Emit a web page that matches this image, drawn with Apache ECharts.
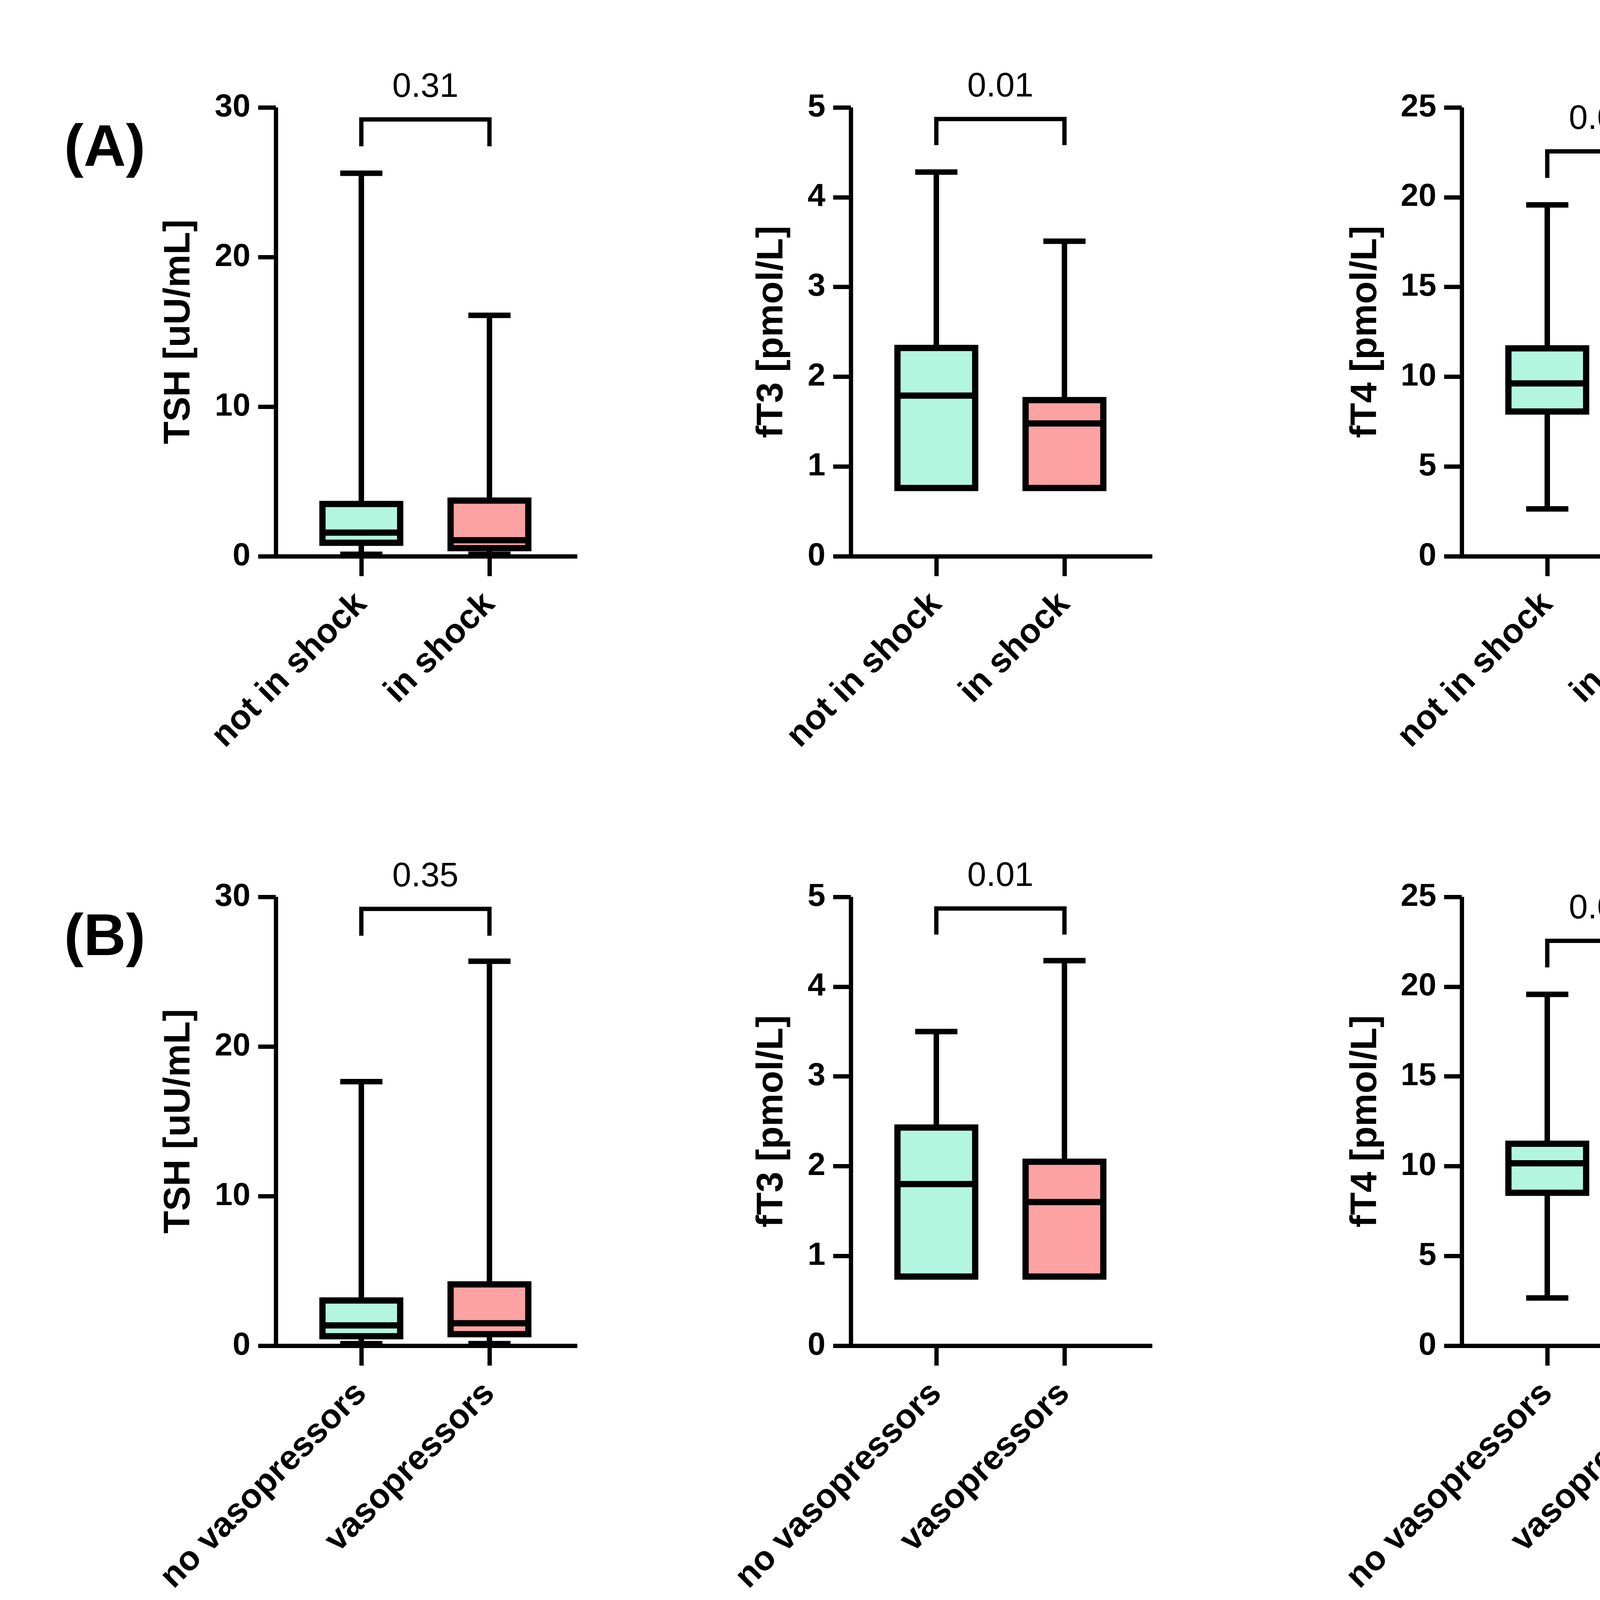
<!DOCTYPE html>
<html><head><meta charset="utf-8">
<script src="https://cdn.jsdelivr.net/npm/echarts@6/dist/echarts.min.js"></script>
<style>html,body{margin:0;padding:0;background:#fff}#c{width:4700px;height:6319px}</style>
</head><body><div id="c"></div>
<script>
// ---------- data ----------
const panelLetters = ['(A)', '(B)', '(C)'];
const categoriesA = ['not in shock', 'in shock'];
const categoriesB = ['no vasopressors', 'vasopressors'];
const categoriesC = ['mechanical ventilation', 'mechanical ventilation'];
const yAxisNames = ['TSH [uU/mL]', 'fT3 [pmol/L]', 'fT4 [pmol/L]'];
const yAxisMax = [30, 5, 25];
const yAxisInterval = [10, 1, 5];
// box statistics: [min, Q1, median, Q3, max]
const tshA = [[0.13, 0.9, 1.58, 3.49, 25.6], [0.13, 0.54, 1.07, 3.72, 16.1]];
const ft3A = [[0.76, 0.76, 1.79, 2.32, 4.28], [0.76, 0.76, 1.48, 1.74, 3.51]];
const ft4A = [[2.64, 8.06, 9.63, 11.58, 19.57], [0.14, 6.56, 7.89, 10.18, 17.96]];
const tshB = [[0.14, 0.63, 1.36, 3.02, 17.65], [0.14, 0.77, 1.5, 4.1, 25.7]];
const ft3B = [[0.77, 0.77, 1.8, 2.43, 3.5], [0.77, 0.77, 1.6, 2.05, 4.29]];
const ft4B = [[2.66, 8.52, 10.16, 11.25, 19.57], [0.16, 6.84, 8.46, 11.19, 17.95]];
const tshC = [[0.11, 1.0, 2.01, 4.18, 24.07], [0.11, 0.67, 1.3, 3.02, 25.8]];
const ft3C = [[0.77, 0.77, 1.94, 2.51, 3.5], [0.77, 0.77, 1.58, 1.95, 4.28]];
const ft4C = [[2.67, 8.41, 10.77, 11.96, 19.56], [0.18, 7.2, 8.45, 10.81, 17.95]];
const pValuesA = ['0.31', '0.01', '0.002'];
const pValuesB = ['0.35', '0.01', '0.003'];
const pValuesC = ['0.02', '0.003', '0.02'];
// significance bracket: [bar level, leg end] per column (TSH, fT3, fT4)
const bracketLevels = [[29.2, 27.4], [4.87, 4.58], [22.55, 21.07]];

// ---------- layout / style ----------
const FONT = 'Liberation Sans';
const BOX_COLORS = ['#B3F6DF', '#FCA2A2'];
const rowTop = [275, 2296, 4229];
const plotH = 1149;
const axisXRows = [[706, 2178, 3742], [706, 2178, 3742], [615, 2085, 3651]];
const frameW = 772, catOff = 219, catStep = 328;
const nameGaps = [200, 154, 198];
const letterTop = [303, 2324, 4255];

const rowsCats = [categoriesA, categoriesB, categoriesC];
const rowsStats = [[tshA, ft3A, ft4A], [tshB, ft3B, ft4B], [tshC, ft3C, ft4C]];
const rowsP = [pValuesA, pValuesB, pValuesC];

const LINE = { color: '#000', width: 11, cap: 'butt' };
const grids = [], xAxes = [], yAxes = [], series = [], titles = [];

for (let r = 0; r < 3; r++) {
  titles.push({
    text: panelLetters[r], left: 159, top: letterTop[r],
    textStyle: { fontFamily: FONT, fontSize: 150, fontWeight: 'bold', color: '#000', lineHeight: 150 }
  });
  for (let c = 0; c < 3; c++) {
    const top = rowTop[r], ax = axisXRows[r][c];
    const stats = rowsStats[r][c];
    const cats = rowsCats[r];
    const gF = grids.length;
    grids.push({ left: ax, top: top, width: frameW, height: plotH, containLabel: false, outerBoundsMode: 'none' });
    const gM = grids.length;
    grids.push({ left: ax + catOff - catStep / 2, top: top, width: catStep * 2, height: plotH, containLabel: false, outerBoundsMode: 'none' });

    const xF = xAxes.length;
    xAxes.push({
      type: 'value', gridIndex: gF, min: -catOff / catStep, max: (frameW - catOff) / catStep,
      axisLine: { show: true, onZero: false, lineStyle: LINE },
      axisTick: { show: false }, axisLabel: { show: false }, splitLine: { show: false }
    });
    const yF = yAxes.length;
    yAxes.push({
      type: 'value', gridIndex: gF, min: 0, max: yAxisMax[c], interval: yAxisInterval[c],
      name: yAxisNames[c], nameLocation: 'middle', nameGap: nameGaps[c], nameMoveOverlap: false,
      nameTextStyle: { fontFamily: FONT, fontSize: 95, fontWeight: 'bold', color: '#000', lineHeight: 95 },
      axisLine: { show: true, onZero: false, lineStyle: LINE },
      axisTick: { show: true, length: 45, lineStyle: LINE },
      axisLabel: { margin: 65, fontFamily: FONT, fontSize: 82, fontWeight: 'bold', color: '#000' },
      splitLine: { show: false }
    });
    const xM = xAxes.length;
    xAxes.push({
      type: 'category', gridIndex: gM, data: cats, boundaryGap: true,
      axisLine: { show: false },
      axisTick: { show: true, alignWithLabel: true, length: 51, lineStyle: LINE },
      axisLabel: {
        interval: 0, rotate: 45, margin: 109, padding: [200, 0, 0, 0],
        fontFamily: FONT, fontSize: 88, fontWeight: 'bold', color: '#000',
        formatter: (v, i) => cats[i]
      },
      splitLine: { show: false }
    });
    const xM2 = xAxes.length;
    xAxes.push({ type: 'category', gridIndex: gM, data: cats, boundaryGap: true, show: false });
    const yM = yAxes.length;
    yAxes.push({ type: 'value', gridIndex: gM, min: 0, max: yAxisMax[c], show: false, splitLine: { show: false } });

    // whiskers (narrow caps) from full stats
    series.push({
      type: 'boxplot', xAxisIndex: xM2, yAxisIndex: yM, boxWidth: [108, 108],
      itemStyle: { color: '#000', borderColor: '#000', borderWidth: 14 },
      emphasis: { disabled: true }, silent: true,
      data: stats.map(s => s.slice())
    });
    // boxes Q1..Q3 with median
    series.push({
      type: 'boxplot', xAxisIndex: xM, yAxisIndex: yM, boxWidth: [199, 199],
      emphasis: { disabled: true }, silent: true,
      data: stats.map((s, i) => ({
        value: [s[1], s[1], s[2], s[3], s[3]],
        itemStyle: { color: BOX_COLORS[i], borderColor: '#000', borderWidth: 16 }
      }))
    });
    // bracket
    const [lvl, leg] = bracketLevels[c];
    series.push({
      type: 'line', xAxisIndex: xF, yAxisIndex: yF, symbol: 'none', silent: true,
      lineStyle: { color: '#000', width: 11, cap: 'butt', join: 'miter', opacity: 1 },
      data: [[0, leg], [0, lvl], [1, lvl], [1, leg]]
    });
    series.push({
      type: 'scatter', xAxisIndex: xF, yAxisIndex: yF, symbolSize: 0, silent: true,
      itemStyle: { opacity: 1 },
      label: {
        show: true, position: 'top', distance: 38, formatter: () => rowsP[r][c],
        fontFamily: FONT, fontSize: 87, color: '#000', opacity: 1, lineHeight: 87
      },
      data: [[0.5, lvl]]
    });
  }
}

const chart = echarts.init(document.getElementById('c'), null, { renderer: 'canvas' });
chart.setOption({
  animation: false,
  backgroundColor: '#fff',
  title: titles,
  grid: grids,
  xAxis: xAxes,
  yAxis: yAxes,
  series: series
});
</script></body></html>
